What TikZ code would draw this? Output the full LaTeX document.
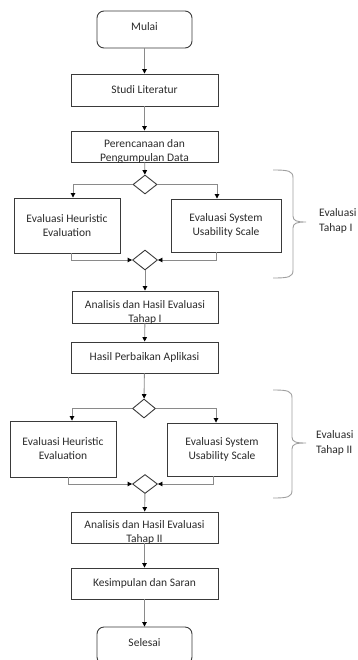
\documentclass[tikz,border=0pt]{standalone}
\usepackage{fontspec}
\setmainfont{Carlito}
\usetikzlibrary{shapes.geometric,arrows.meta}
\definecolor{boxc}{HTML}{3A3A3A}
\definecolor{linec}{HTML}{8A8A8A}
\definecolor{bracec}{HTML}{A0A0A0}
\definecolor{txtc}{HTML}{2A2A2A}
\tikzset{
  box/.style={draw=boxc, line width=0.9pt, rectangle, inner sep=0pt, text=txtc, font=\fontsize{11.5}{14}\selectfont, align=center},
  term/.style={box, rounded corners=7pt},
  txt/.style={inner sep=0pt, text=txtc, font=\fontsize{11.5}{14}\selectfont, align=center},
  dec/.style={draw=boxc, line width=0.9pt, diamond, inner sep=0pt, minimum width=24pt, minimum height=19pt},
  conn/.style={draw=linec, line width=0.9pt, -{Triangle[width=4.5pt,length=4.5pt,fill=black,color=black]}},
  bracel/.style={draw=bracec, line width=0.9pt},
  lbl/.style={inner sep=0pt, text=txtc, font=\fontsize{11.5}{15}\selectfont, align=left, anchor=north west}
}
\begin{document}
\begin{tikzpicture}[x=1pt,y=-1pt]
\useasboundingbox (0,0) rectangle (358,660);
% terminals and boxes
\node[term, minimum width=95pt, minimum height=37pt] (mulai) at (144.5,29.5) {};
\node[txt] (mulait) at (144.5,27) {Mulai};
\node[box, minimum width=147pt, minimum height=32pt] (studi) at (144.5,90) {Studi Literatur};
\node[box, minimum width=147pt, minimum height=31pt] (perenc) at (144.5,146.5) {};
\begin{scope}
  \clip (perenc.south west) rectangle (perenc.north east);
  \node[txt] (perenct) at (144.5,151.5) {Perencanaan dan\\Pengumpulan Data};
\end{scope}
\node[dec] (d1) at (145,184.5) {};
\node[box, minimum width=106pt, minimum height=55pt] (he1) at (67,225.5) {Evaluasi Heuristic\\Evaluation};
\node[box, minimum width=110pt, minimum height=53pt] (sus1) at (226,225.5) {Evaluasi System\\Usability Scale};
\node[dec, minimum width=25pt, minimum height=20pt] (d2) at (145,260) {};
\node[box, minimum width=146pt, minimum height=32pt] (ana1) at (145,307) {};
\begin{scope}
  \clip (ana1.south west) rectangle (ana1.north east);
  \node[txt] (ana1t) at (145,312.5) {Analisis dan Hasil Evaluasi\\Tahap I};
\end{scope}
\node[box, minimum width=147pt, minimum height=31pt] (hasil) at (144.5,357.5) {Hasil Perbaikan Aplikasi};
\node[dec, minimum width=23pt, minimum height=19pt] (d3) at (144,408.5) {};
\node[box, minimum width=106pt, minimum height=56pt] (he2) at (63,449) {Evaluasi Heuristic\\Evaluation};
\node[box, minimum width=110pt, minimum height=53pt] (sus2) at (222,449.5) {Evaluasi System\\Usability Scale};
\node[dec, minimum width=25pt, minimum height=19pt] (d4) at (145,484) {};
\node[box, minimum width=147pt, minimum height=31pt] (ana2) at (144.5,527.5) {};
\begin{scope}
  \clip (ana2.south west) rectangle (ana2.north east);
  \node[txt] (ana2t) at (144.5,532.5) {Analisis dan Hasil Evaluasi\\Tahap II};
\end{scope}
\node[box, minimum width=147pt, minimum height=31pt] (kesim) at (144.5,583.5) {Kesimpulan dan Saran};
\node[term, minimum width=95pt, minimum height=37pt] (selesai) at (144.5,645.5) {};
\node[txt] (selesait) at (144.5,643) {Selesai};
% connectors
\draw[conn] (mulai) -- (studi);
\draw[conn] (studi) -- (perenc);
\draw[conn] (perenc) -- (d1);
\draw[conn] (d1.west) -| ([xshift=6pt]he1.north);
\draw[conn] (d1.east) -| ([xshift=-9pt]sus1.north);
\draw[conn] ([xshift=4pt]he1.south) |- (d2.west);
\draw[conn] ([xshift=-10pt]sus1.south) |- (d2.east);
\draw[conn] (d2) -- (ana1);
\draw[conn] (ana1) -- (hasil);
\draw[conn] (hasil) -- (d3);
\draw[conn] (d3.west) -| ([xshift=9pt]he2.north);
\draw[conn] (d3.east) -| ([xshift=-6pt]sus2.north);
\draw[conn] ([xshift=5pt]he2.south) |- (d4.west);
\draw[conn] ([xshift=-9pt]sus2.south) |- (d4.east);
\draw[conn] (d4) -- (ana2);
\draw[conn] (ana2) -- (kesim);
\draw[conn] (kesim) -- (selesai);
% braces
\coordinate (b1t) at (273,170);
\coordinate (b1b) at (273,278);
\draw[bracel] (b1t) .. controls (289,170) and (293,171) .. (293,178) -- (293,216)
  .. controls (293,221) and (297,222) .. (306,222)
  .. controls (297,222) and (293,223) .. (293,228) -- (293,270)
  .. controls (293,277) and (289,278) .. (b1b);
\node[lbl] (l1) at (319,208) {Evaluasi\\Tahap I};
\coordinate (b2t) at (273,390);
\coordinate (b2b) at (273,498);
\draw[bracel] (b2t) .. controls (288,390) and (292,391) .. (292,398) -- (292,437)
  .. controls (292,442) and (296,443) .. (306,443)
  .. controls (296,443) and (292,444) .. (292,449) -- (292,490)
  .. controls (292,497) and (288,498) .. (b2b);
\node[lbl] (l2) at (316,430) {Evaluasi\\Tahap II};
\end{tikzpicture}
\end{document}
